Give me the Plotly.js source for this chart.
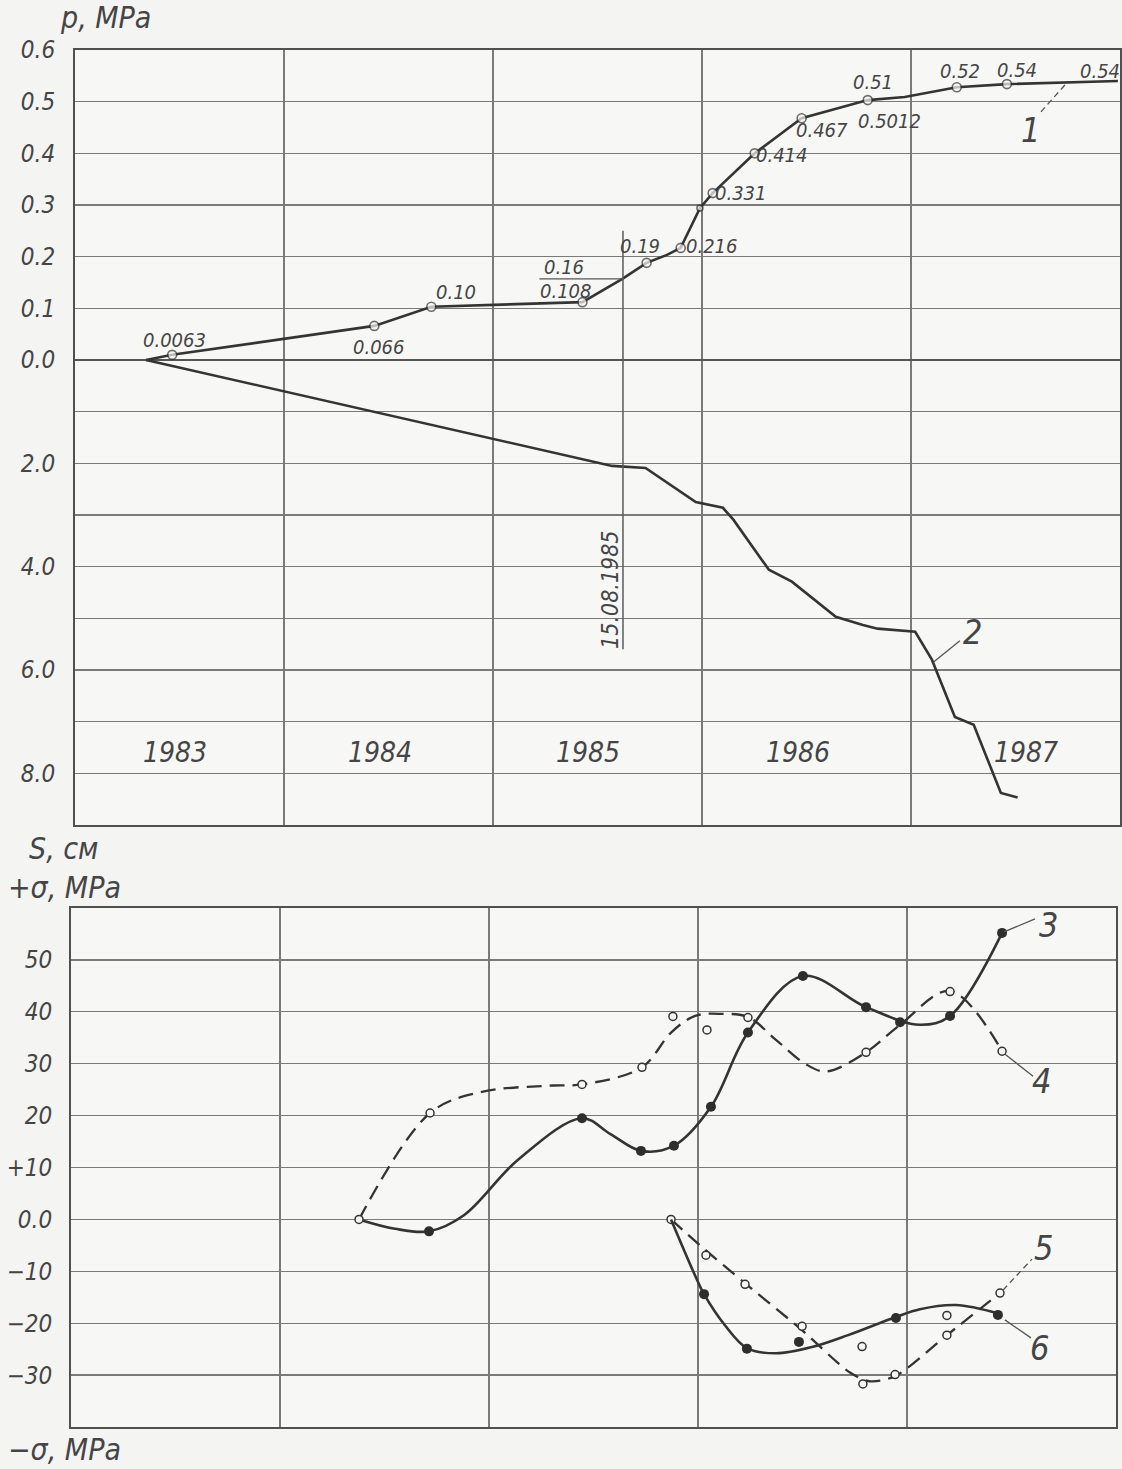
<!DOCTYPE html>
<html>
<head>
<meta charset="utf-8">
<script src="https://cdn.plot.ly/plotly-3.0.1.min.js"></script>
<style>
html,body{margin:0;padding:0;background:#f4f4f2;}
#chart{width:1122px;height:1469px;}
</style>
</head>
<body>
<div id="chart"></div>
<script>
// ---------- categories / ticks ----------
const yearEdges  = [1983, 1984, 1985, 1986, 1987, 1988];
const yearLabels = ['1983', '1984', '1985', '1986', '1987'];
const eventDate  = '15.08.1985';
const eventYearFraction = 227 / 365;          // 15 August

// top panel: p (MPa) above zero, S (cm) below zero
const topTickVals  = [6, 5, 4, 3, 2, 1, 0, -1, -2, -3, -4, -5, -6, -7, -8, -9];
const topTickText  = ['0.6','0.5','0.4','0.3','0.2','0.1','0.0','','2.0','','4.0','','6.0','','8.0',''];
// bottom panel: sigma (MPa)
const botTickVals  = [50, 40, 30, 20, 10, 0, -10, -20, -30];
const botTickText  = ['50','40','30','20','+10','0.0','\u221210','\u221220','\u221230'];

// ---------- curve 1: pressure p, MPa ----------
const pDate   = [1983.34, 1983.465, 1984.432, 1984.705, 1985.428, 1985.619, 1985.735, 1985.83, 1985.898, 1985.99, 1986.051, 1986.252, 1986.477, 1986.793, 1986.970, 1987.219, 1987.459, 1987.99];
const pValue  = [0.000, 0.010, 0.066, 0.103, 0.112, 0.157, 0.188, 0.203, 0.217, 0.294, 0.323, 0.400, 0.468, 0.503, 0.509, 0.528, 0.534, 0.540];
const pLabel  = ['', '0.0063', '0.066', '0.10', '0.108', '0.16', '0.19', '', '0.216', '', '0.331', '0.414', '0.467', '0.51', '0.5012', '0.52', '0.54', '0.54'];
const pCircle = [false, true, true, true, true, false, true, false, true, true, true, true, true, true, false, true, true, false];

// ---------- curve 2: settlement S, cm ----------
const sDate  = [1983.34, 1985.47, 1985.57, 1985.73, 1985.97, 1986.10, 1986.15, 1986.32, 1986.43, 1986.64, 1986.77, 1986.84, 1987.02, 1987.10, 1987.21, 1987.30, 1987.43, 1987.51];
const sValue = [0, 1.97, 2.05, 2.09, 2.75, 2.86, 3.09, 4.06, 4.29, 4.97, 5.13, 5.20, 5.26, 5.80, 6.91, 7.06, 8.38, 8.47];

// ---------- curve 3 (solid, filled points) ----------
const c3Date  = [1984.378, 1984.550, 1984.713, 1984.880, 1985.139, 1985.445, 1985.579, 1985.727, 1985.885, 1986.062, 1986.239, 1986.502, 1986.804, 1987.062, 1987.206, 1987.455];
const c3Value = [0, -1.8, -2.3, 0.8, 11.5, 19.5, 16.5, 13.2, 14.2, 21.7, 36.0, 46.9, 40.9, 37.5, 39.2, 55.2];
const p3Date  = [1984.713, 1985.445, 1985.727, 1985.885, 1986.062, 1986.239, 1986.502, 1986.804, 1986.967, 1987.206, 1987.455];
const p3Value = [-2.3, 19.5, 13.2, 14.2, 21.7, 36.0, 46.9, 40.9, 38.0, 39.2, 55.2];

// ---------- curve 4 (dashed, open points) ----------
const c4Date  = [1984.378, 1984.718, 1984.957, 1985.306, 1985.445, 1985.732, 1985.871, 1985.986, 1986.115, 1986.239, 1986.373, 1986.512, 1986.612, 1986.804, 1986.967, 1987.206, 1987.455];
const c4Value = [0, 20.5, 24.5, 25.8, 26.0, 29.3, 36.0, 39.2, 39.6, 39.0, 34.6, 30.0, 28.5, 32.2, 37.5, 44.0, 32.4];
const p4Date  = [1984.378, 1984.718, 1985.445, 1985.732, 1985.880, 1986.043, 1986.239, 1986.804, 1987.206, 1987.455];
const p4Value = [0, 20.5, 26.0, 29.3, 39.1, 36.5, 38.9, 32.2, 43.9, 32.4];

// ---------- curve 5 (dashed, open points) ----------
const c5Date  = [1985.871, 1986.010, 1986.225, 1986.488, 1986.727, 1986.823, 1986.943, 1987.191, 1987.445];
const c5Value = [0, -5.0, -12.3, -21.0, -29.5, -31.2, -30.2, -22.3, -14.2];
const p5Date  = [1985.871, 1986.038, 1986.225, 1986.498, 1986.785, 1986.789, 1986.943, 1987.191, 1987.191, 1987.445];
const p5Value = [0, -6.9, -12.5, -20.6, -24.5, -31.7, -29.9, -18.5, -22.3, -14.2];

// ---------- curve 6 (solid, filled points) ----------
const c6Date  = [1985.871, 1985.986, 1986.029, 1986.129, 1986.234, 1986.373, 1986.545, 1986.718, 1986.947, 1987.062, 1987.234, 1987.435];
const c6Value = [0, -10.8, -14.4, -20.4, -24.8, -25.8, -24.6, -22.3, -18.8, -17.3, -16.5, -18.1];
const p6Date  = [1986.029, 1986.234, 1986.483, 1986.947, 1987.435];
const p6Value = [-14.4, -24.9, -23.6, -19.0, -18.4];

// ---------- styles (label offsets, not data) ----------
const pLabelShift = [null,[2,15],[5,-21],[25,15],[-16,11],[-58,12],[-7,17],null,[31,2],null,[28,0],[27,-2],[20,-12],[5,18],[-15,-24],[3,16],[10,14],[-18,10]];
const yearLabelOffset = [0.48, 0.46, 0.455, 0.46, 0.55];
const INK = '#343434';
const TXT = '#454545';
const GRID = '#7a7a7a';
const FONT = 'DejaVu Sans Condensed, Liberation Sans Narrow, DejaVu Sans, sans-serif';
const fnt = (size) => ({family: FONT, size: size, color: TXT, style: 'italic'});

// ---------- traces ----------
const pY = pValue.map(v => v * 10);
const sY = sValue.map(v => -v);
const last = a => a[a.length - 1];
const pMarkIdx = pDate.map((d, i) => i).filter(i => pCircle[i]);

const traces = [
  {x: pDate, y: pY, xaxis: 'x', yaxis: 'y', mode: 'lines', line: {color: INK, width: 2.6}, hoverinfo: 'skip'},
  {x: pMarkIdx.map(i => pDate[i]), y: pMarkIdx.map(i => pY[i]), xaxis: 'x', yaxis: 'y', mode: 'markers',
   marker: {symbol: 'circle', size: pMarkIdx.map(i => pLabel[i] ? 9 : 6), color: '#f6f6f4', line: {color: INK, width: 1.6}}, hoverinfo: 'skip'},
  {x: sDate, y: sY, xaxis: 'x', yaxis: 'y', mode: 'lines', line: {color: INK, width: 2.6}, hoverinfo: 'skip'},

  {x: c3Date, y: c3Value, xaxis: 'x2', yaxis: 'y2', mode: 'lines', line: {color: INK, width: 2.6, shape: 'spline', smoothing: 1}, hoverinfo: 'skip'},
  {x: p3Date, y: p3Value, xaxis: 'x2', yaxis: 'y2', mode: 'markers', marker: {size: 10, color: '#2e2e2e'}, hoverinfo: 'skip'},
  {x: c4Date, y: c4Value, xaxis: 'x2', yaxis: 'y2', mode: 'lines', line: {color: INK, width: 2.3, dash: '15px,8px', shape: 'spline', smoothing: 1}, hoverinfo: 'skip'},
  {x: p4Date, y: p4Value, xaxis: 'x2', yaxis: 'y2', mode: 'markers', marker: {size: 8, color: '#f6f6f4', line: {color: INK, width: 1.5}}, hoverinfo: 'skip'},
  {x: c5Date, y: c5Value, xaxis: 'x2', yaxis: 'y2', mode: 'lines', line: {color: INK, width: 2.3, dash: '15px,8px', shape: 'spline', smoothing: 0.8}, hoverinfo: 'skip'},
  {x: p5Date, y: p5Value, xaxis: 'x2', yaxis: 'y2', mode: 'markers', marker: {size: 8, color: '#f6f6f4', line: {color: INK, width: 1.5}}, hoverinfo: 'skip'},
  {x: c6Date, y: c6Value, xaxis: 'x2', yaxis: 'y2', mode: 'lines', line: {color: INK, width: 2.6, shape: 'spline', smoothing: 1}, hoverinfo: 'skip'},
  {x: p6Date, y: p6Value, xaxis: 'x2', yaxis: 'y2', mode: 'markers', marker: {size: 10, color: '#2e2e2e'}, hoverinfo: 'skip'}
];

// ---------- annotations ----------
const ann = [];
pLabel.forEach((t, i) => {
  if (!t) return;
  const sh = pLabelShift[i];
  ann.push({x: pDate[i], y: pY[i], xref: 'x', yref: 'y', text: t, showarrow: false,
            xshift: sh[0], yshift: sh[1], font: fnt(20)});
});
yearLabels.forEach((t, i) => {
  ann.push({x: yearEdges[i] + yearLabelOffset[i], y: -7.6, xref: 'x', yref: 'y', text: t, showarrow: false, font: fnt(28)});
});
const eventX = 1985 + eventYearFraction;
ann.push({x: eventX, y: -4.45, xref: 'x', yref: 'y', text: eventDate, textangle: -90, showarrow: false,
          xshift: -13, font: fnt(23)});

// axis titles
const paperX = px => (px - 71) / 1049;
const paperY = py => (1427 - py) / 1377;
const titles = [
  {t: 'p, MPa', x: 58, y: 18},
  {t: 'S, \u0441\u043c', x: 27, y: 848},
  {t: '+\u03c3, MPa', x: 6, y: 887},
  {t: '\u2212\u03c3, MPa', x: 6, y: 1450}
];
titles.forEach(o => ann.push({x: paperX(o.x), y: paperY(o.y), xref: 'paper', yref: 'paper', xanchor: 'left', yanchor: 'middle',
  text: o.t, showarrow: false, font: fnt(30)}));

// curve numbers with leaders (pixel offsets from a curve point)
const leaders = [
  {n: '1', xa: 'x',  ya: 'y',  x: last(pDate), y: last(pY), l: [-53, -4, -78, -32], t: [-87, -49], dash: 'dash'},
  {n: '2', xa: 'x',  ya: 'y',  x: sDate[13], y: sY[13], l: [2, -2, 28, 19], t: [41, 28], dash: 'solid'},
  {n: '3', xa: 'x2', ya: 'y2', x: last(p3Date), y: last(p3Value), l: [2, 1, 33, 14], t: [46, 8], dash: 'solid'},
  {n: '4', xa: 'x2', ya: 'y2', x: last(p4Date), y: last(p4Value), l: [3, -3, 31, -25], t: [39, -30], dash: 'solid'},
  {n: '5', xa: 'x2', ya: 'y2', x: last(p5Date), y: last(p5Value), l: [3, 3, 32, 34], t: [43, 45], dash: 'dash'},
  {n: '6', xa: 'x2', ya: 'y2', x: last(p6Date), y: last(p6Value), l: [7, -5, 33, -23], t: [42, -33], dash: 'solid'}
];
const shapes = [];
leaders.forEach(o => {
  shapes.push({type: 'line', xref: o.xa, yref: o.ya, xsizemode: 'pixel', ysizemode: 'pixel',
    xanchor: o.x, yanchor: o.y, x0: o.l[0], y0: o.l[1], x1: o.l[2], y1: o.l[3],
    line: {color: '#555', width: 1.3, dash: o.dash === 'dash' ? '6px,4px' : 'solid'}});
  ann.push({x: o.x, y: o.y, xref: o.xa, yref: o.ya, text: o.n, showarrow: false,
    xshift: o.t[0], yshift: o.t[1], font: fnt(34)});
});
// event marker line
shapes.push({type: 'line', xref: 'x', yref: 'y', x0: eventX, x1: eventX, y0: 2.5, y1: -5.6,
  line: {color: '#5a5a5a', width: 1.5}});
// underline of the 0.16 label
shapes.push({type: 'line', xref: 'x', yref: 'y', xsizemode: 'pixel', xanchor: pDate[5], x0: -83, x1: 0,
  y0: pY[5], y1: pY[5], line: {color: '#555', width: 1.3}});

// ---------- layout ----------
const axX = {
  range: [1983, 1988], tickvals: yearEdges.slice(1, 5), showticklabels: false, ticks: '',
  showgrid: true, gridcolor: GRID, gridwidth: 1.3, zeroline: false,
  showline: true, mirror: true, linecolor: '#505050', linewidth: 2, fixedrange: true
};
const layout = {
  width: 1122, height: 1469,
  margin: {l: 71, r: 2, t: 50, b: 42},
  paper_bgcolor: '#f4f4f2', plot_bgcolor: '#f7f7f5',
  showlegend: false,
  xaxis:  Object.assign({}, axX, {domain: [4 / 1049, 1], anchor: 'y'}),
  xaxis2: Object.assign({}, axX, {domain: [0, 1045 / 1049], anchor: 'y2'}),
  yaxis: {
    domain: [(1427 - 825) / 1377, 1], anchor: 'x', range: [-9, 6],
    tickvals: topTickVals, ticktext: topTickText, ticks: '', ticklabelstandoff: 13,
    tickfont: fnt(24), showgrid: true, gridcolor: GRID, gridwidth: 1.3,
    zeroline: true, zerolinecolor: '#555', zerolinewidth: 1.6,
    showline: true, mirror: true, linecolor: '#505050', linewidth: 2, fixedrange: true
  },
  yaxis2: {
    domain: [0, (1427 - 908) / 1377], anchor: 'x2', range: [-40, 60],
    tickvals: botTickVals, ticktext: botTickText, ticks: '', ticklabelstandoff: 12,
    tickfont: fnt(24), showgrid: true, gridcolor: GRID, gridwidth: 1.3,
    zeroline: false,
    showline: true, mirror: true, linecolor: '#505050', linewidth: 2, fixedrange: true
  },
  annotations: ann,
  shapes: shapes
};

Plotly.newPlot('chart', traces, layout, {staticPlot: true, displayModeBar: false});
</script>
</body>
</html>
